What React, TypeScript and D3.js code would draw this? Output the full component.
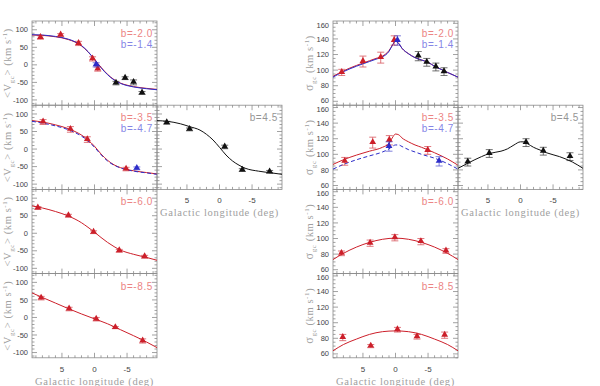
import React, { useEffect, useRef } from 'react';
import * as d3 from 'd3';

// tick labels
const LON_TICKS = [5, 0, -5];
const V_TICKS = [100, 50, 0, -50, -100];
const S_TICKS = [160, 140, 120, 100, 80, 60];

// observed points: [longitude, value, error]
const vPtsB20 = [[8.3, 78, 5], [5.2, 85, 4], [2.45, 61, 6], [0.3, 17, 6], [-0.5, -12, 6]];
const vPtsB14 = [[-0.25, 0, 6]];
const vPtsB14k = [[-3.3, -52, 5], [-4.7, -38, 4], [-6.0, -50, 7], [-7.3, -80, 4]];
const vPtsB35 = [[7.9, 77, 7], [3.7, 56, 8], [1.1, 27, 8], [-4.85, -57, 5]];
const vPtsB47 = [[-6.5, -55, 4]];
const vPtsB45 = [[8.1, 75, 4], [4.6, 56, 4], [-0.8, 6, 5], [-3.5, -60, 4], [-7.7, -65, 4]];
const vPtsB60 = [[8.7, 72, 4], [4.0, 50, 4], [0.15, 3, 4], [-3.8, -50, 4], [-7.7, -67, 4]];
const vPtsB85 = [[8.2, 55, 5], [3.9, 24, 5], [-0.26, -5, 5], [-3.2, -29, 3], [-7.4, -67, 6]];

const sPtsB20 = [[8.26, 97, 4], [5.0, 111, 7], [2.27, 116, 7], [0.2, 138, 6]];
const sPtsB14 = [[-0.3, 138, 6]];
const sPtsB14k = [[-3.5, 118, 6], [-4.8, 110, 5], [-6.2, 104, 5], [-7.45, 98, 5]];
const sPtsB35 = [[7.8, 91, 5], [3.5, 115, 7], [0.95, 118, 6], [-4.95, 105, 5]];
const sPtsB47 = [[1.0, 110, 6], [-6.7, 91, 6]];
const sPtsB45 = [[8.1, 90, 5], [4.8, 101, 5], [-0.85, 115, 5], [-3.5, 104, 5], [-7.6, 97, 5]];
const sPtsB60 = [[8.3, 81, 3], [3.9, 94, 4], [0.1, 101, 4], [-3.9, 96, 4], [-7.75, 84, 3]];
const sPtsB85 = [[8.1, 81, 4], [3.8, 70, 2], [-0.3, 91, 3], [-3.3, 82, 3], [-7.55, 84, 4]];

// model curves: [longitude, value]
const vModB20 = [[9.6, 85], [8, 84], [6, 80], [5, 77], [4, 72], [3, 65], [2, 54], [1, 37], [0, 16], [-1, -7], [-2, -27], [-3, -42], [-4, -52], [-5, -58], [-6, -62], [-8, -67], [-9.6, -70]];
const vModB14 = [[9.6, 86], [8, 85], [6, 81], [5, 78], [4, 73], [3, 66], [2, 55], [1, 38], [0, 15], [-1, -8], [-2, -28], [-3, -43], [-4, -53], [-5, -59], [-6, -63], [-8, -68], [-9.6, -71]];
const vModB35 = [[9.6, 81], [8, 77], [6, 69], [4, 58], [3, 50], [2, 40], [1, 26], [0, 8], [-1, -14], [-2, -32], [-3, -45], [-4, -53], [-6, -62], [-8, -67], [-9.6, -71]];
const vModB47 = [[9.6, 79], [8, 74], [6, 66], [4, 55], [3, 47], [2, 37], [1, 23], [0, 5], [-1, -16], [-2, -34], [-3, -46], [-4, -54], [-6, -63], [-8, -68], [-9.6, -72]];
const vModB45 = [[9.6, 81], [8, 79], [6, 72], [4.6, 64], [3, 54], [2, 42], [1, 26], [0, 5], [-1, -17], [-2, -34], [-3, -46], [-4, -55], [-6, -63], [-8, -68], [-9.6, -72]];
const vModB60 = [[9.6, 78], [8, 72], [6, 62], [4, 49], [2, 30], [1, 17], [0, 3], [-1, -12], [-2, -26], [-3, -38], [-4, -48], [-6, -60], [-8, -69], [-9.6, -77]];
const vModB85 = [[9.6, 70], [8, 57], [6, 41], [4, 25], [2, 10], [0, -4], [-2, -18], [-4, -35], [-6, -52], [-8, -70], [-9.6, -86]];

const sModB20 = [[9.6, 92], [8, 99], [6, 106], [4, 112], [3, 115], [2, 118], [1, 125], [0.4, 133], [0, 138], [-0.5, 134], [-1, 128], [-2, 121], [-3, 116], [-4, 113], [-5, 110], [-6, 105], [-7, 101], [-8, 97], [-9.6, 91]];
const sModB14 = [[9.6, 91], [8, 98], [6, 105], [4, 111], [3, 114], [2, 117], [1, 124], [0.4, 133], [0, 137], [-0.5, 134], [-1, 128], [-2, 121], [-3, 116], [-4, 113], [-5, 110], [-6, 105], [-7, 101], [-8, 97], [-9.6, 91]];
const sModB35 = [[9.6, 87], [8, 93], [6, 99], [4, 104], [2, 109], [1, 114], [0.5, 121], [0, 126], [-0.5, 125], [-1, 121], [-2, 116], [-3, 112], [-4, 109], [-6, 102], [-8, 94], [-9.6, 86]];
const sModB47 = [[9.6, 81], [8, 87], [6, 93], [4, 98], [2, 103], [1, 107], [0.5, 110], [0, 112], [-0.5, 112], [-1, 110], [-2, 106], [-3, 103], [-4, 100], [-6, 95], [-8, 88], [-9.6, 81]];
const sModB45 = [[9.6, 82], [8, 89], [6, 97], [4.8, 101], [3, 104], [2, 107], [1, 112], [0, 116], [-0.5, 116], [-1, 114], [-2, 109], [-3, 105.5], [-4, 102], [-6, 97], [-8, 90], [-9.6, 82]];
const sModB60 = [[9.6, 73], [8, 81], [6, 89], [4, 95], [2, 99], [0, 100.5], [-2, 99], [-4, 95], [-6, 89], [-8, 81], [-9.6, 73]];
const sModB85 = [[9.6, 64], [8, 72], [6, 79], [4, 85], [2, 88.5], [0, 89.5], [-2, 88.5], [-4, 85], [-6, 79], [-8, 72], [-9.6, 64]];

const W = 600, H = 386;
const TOP = 21, PH = 84.2, PW = 125;
const LX = 32, RX = 333;

const RED = '#cc1f2a', BLUE = '#2c2cc8', BLACK = '#111111';
const RED_T = '#ec8484', BLUE_T = '#8585e6', GRAY_T = '#959595';
const FRAME = '#8a8a8a';

const App = () => {
  const ref = useRef<SVGSVGElement>(null);

  useEffect(() => {
    const svg = d3.select(ref.current);
    svg.selectAll('*').remove();

    const xS = d3.scaleLinear().domain([9.6, -9.6]).range([0, PW]);
    const vS = d3.scaleLinear().domain([-115, 125]).range([PH, 0]);
    const sS = d3.scaleLinear().domain([55, 163]).range([PH, 0]);

    const panels = [
      { x: LX, row: 0, y: vS, kind: 'v', curves: [[vModB20, RED, false], [vModB14, BLUE, false]], pts: [[vPtsB20, RED], [vPtsB14, BLUE], [vPtsB14k, BLACK]], tags: [['b=-2.0', RED_T], ['b=-1.4', BLUE_T]] },
      { x: LX, row: 1, y: vS, kind: 'v', curves: [[vModB35, RED, false], [vModB47, BLUE, true]], pts: [[vPtsB35, RED], [vPtsB47, BLUE]], tags: [['b=-3.5', RED_T], ['b=-4.7', BLUE_T]] },
      { x: LX + PW, row: 1, y: vS, kind: 'v', mid: true, xlab: true, curves: [[vModB45, BLACK, false]], pts: [[vPtsB45, BLACK]], tags: [['b=4.5', GRAY_T]] },
      { x: LX, row: 2, y: vS, kind: 'v', curves: [[vModB60, RED, false]], pts: [[vPtsB60, RED]], tags: [['b=-6.0', RED_T]] },
      { x: LX, row: 3, y: vS, kind: 'v', xlab: true, curves: [[vModB85, RED, false]], pts: [[vPtsB85, RED]], tags: [['b=-8.5', RED_T]] },
      { x: RX, row: 0, y: sS, kind: 's', curves: [[sModB20, RED, false], [sModB14, BLUE, false]], pts: [[sPtsB20, RED], [sPtsB14, BLUE], [sPtsB14k, BLACK]], tags: [['b=-2.0', RED_T], ['b=-1.4', BLUE_T]] },
      { x: RX, row: 1, y: sS, kind: 's', curves: [[sModB35, RED, false], [sModB47, BLUE, true]], pts: [[sPtsB35, RED], [sPtsB47, BLUE]], tags: [['b=-3.5', RED_T], ['b=-4.7', BLUE_T]] },
      { x: RX + PW, row: 1, y: sS, kind: 's', mid: true, xlab: true, curves: [[sModB45, BLACK, false]], pts: [[sPtsB45, BLACK]], tags: [['b=4.5', GRAY_T]] },
      { x: RX, row: 2, y: sS, kind: 's', curves: [[sModB60, RED, false]], pts: [[sPtsB60, RED]], tags: [['b=-6.0', RED_T]] },
      { x: RX, row: 3, y: sS, kind: 's', xlab: true, curves: [[sModB85, RED, false]], pts: [[sPtsB85, RED]], tags: [['b=-8.5', RED_T]] },
    ];

    const defs = svg.append('defs');

    panels.forEach((p: any, i) => {
      const top = TOP + p.row * PH;
      const g = svg.append('g').attr('transform', `translate(${p.x},${top})`);
      const y = p.y;

      defs.append('clipPath').attr('id', `clip${i}`)
        .append('rect').attr('width', PW).attr('height', PH);

      // frame
      g.append('rect').attr('width', PW).attr('height', PH)
        .attr('fill', 'none').attr('stroke', FRAME).attr('stroke-width', 0.8);

      // ticks on all four sides, pointing inward
      const tk = g.append('g').attr('stroke', FRAME).attr('stroke-width', 0.8);
      d3.range(-9, 10).forEach(l => {
        const len = l % 5 === 0 ? 5 : 2.5;
        const xx = xS(l);
        tk.append('line').attr('x1', xx).attr('x2', xx).attr('y1', PH).attr('y2', PH - len);
        tk.append('line').attr('x1', xx).attr('x2', xx).attr('y1', 0).attr('y2', len);
      });
      const yStep = p.kind === 'v' ? 10 : 5;
      const yMajor = p.kind === 'v' ? 50 : 20;
      const [d0, d1] = y.domain();
      d3.range(Math.ceil(d0 / yStep) * yStep, d1 + 0.01, yStep).forEach(v => {
        const len = v % yMajor === 0 ? 5 : 2.5;
        const yy = y(v);
        tk.append('line').attr('x1', 0).attr('x2', len).attr('y1', yy).attr('y2', yy);
        tk.append('line').attr('x1', PW).attr('x2', PW - len).attr('y1', yy).attr('y2', yy);
      });

      // y tick labels (edge labels nudged inside the panel)
      if (!p.mid) {
        const ticks = p.kind === 'v' ? V_TICKS : S_TICKS;
        g.append('g').selectAll('text').data(ticks).enter().append('text')
          .attr('x', -4).attr('y', d => Math.min(Math.max(y(d), 4.2), PH - 4.4)).attr('dy', '0.35em')
          .attr('text-anchor', 'end').attr('font-family', 'Liberation Sans, Arial, sans-serif')
          .attr('font-size', 7.5).attr('fill', '#444').text(d => d);

        // y title
        const t = g.append('text')
          .attr('transform', `translate(${p.kind === 'v' ? -21 : -20},${PH / 2}) rotate(-90)`)
          .attr('text-anchor', 'middle').attr('font-family', 'Liberation Serif, Times New Roman, serif')
          .attr('font-size', 10.5).attr('fill', '#a0a0a0').attr('letter-spacing', 0.6);
        if (p.kind === 'v') {
          t.append('tspan').text('<V');
          t.append('tspan').attr('dy', 2.5).attr('font-size', 7).text('gc');
          t.append('tspan').attr('dy', -2.5).text('> (km s');
        } else {
          t.append('tspan').attr('font-size', 12).text('σ');
          t.append('tspan').attr('dy', 2.5).attr('font-size', 7).text('gc');
          t.append('tspan').attr('dy', -2.5).text(' (km s');
        }
        t.append('tspan').attr('dy', -4).attr('font-size', 7).text('-1');
        t.append('tspan').attr('dy', 4).text(')');
      }

      // x tick labels + title
      if (p.xlab) {
        g.append('g').selectAll('text').data(LON_TICKS).enter().append('text')
          .attr('x', d => xS(d)).attr('y', PH + 14)
          .attr('text-anchor', 'middle').attr('font-family', 'Liberation Sans, Arial, sans-serif')
          .attr('font-size', 8).attr('fill', '#444').text(d => d);
        g.append('text').attr('x', PW / 2).attr('y', PH + 27)
          .attr('text-anchor', 'middle').attr('font-family', 'Liberation Serif, Times New Roman, serif')
          .attr('font-size', 10.5).attr('fill', '#a0a0a0').attr('letter-spacing', 0.7)
          .text('Galactic longitude (deg)');
      }

      // model curves
      const line = d3.line<any>().x(d => xS(d[0])).y(d => y(d[1])).curve(d3.curveMonotoneX);
      const cg = g.append('g').attr('clip-path', `url(#clip${i})`);
      p.curves.forEach(([data, col, dashed]: any) => {
        cg.append('path').datum(data).attr('d', line)
          .attr('fill', 'none').attr('stroke', col).attr('stroke-width', 1)
          .attr('stroke-dasharray', dashed ? '4,2.5' : null);
      });

      // error bars and markers
      const tri = d3.symbol().type(d3.symbolTriangle).size(20);
      p.pts.forEach(([data, col]: any) => {
        const eg = g.append('g').attr('stroke', col).attr('stroke-width', 0.8).attr('opacity', 0.75);
        data.forEach((d: number[]) => {
          const xx = xS(d[0]);
          const y1 = y(d[1] - d[2]);
          const y2 = y(d[1] + d[2]);
          eg.append('line').attr('x1', xx).attr('x2', xx).attr('y1', y1).attr('y2', y2);
          eg.append('line').attr('x1', xx - 3.5).attr('x2', xx + 3.5).attr('y1', y1).attr('y2', y1);
          eg.append('line').attr('x1', xx - 3.5).attr('x2', xx + 3.5).attr('y1', y2).attr('y2', y2);
        });
        g.append('g').selectAll('path').data(data).enter().append('path')
          .attr('d', tri as any)
          .attr('transform', (d: any) => `translate(${xS(d[0])},${y(d[1]) - 0.5})`)
          .attr('fill', col);
      });

      // latitude tags
      p.tags.forEach(([txt, col]: any, k: number) => {
        g.append('text').attr('x', PW - 4).attr('y', 16 + k * 10.5)
          .attr('text-anchor', 'end').attr('font-family', 'Liberation Sans, Arial, sans-serif')
          .attr('font-size', 10).attr('letter-spacing', 0.6).attr('fill', col).text(txt);
      });
    });
  }, []);

  return (
    <svg ref={ref} width={W} height={H}
      style={{ position: 'absolute', left: 0, top: 0, background: '#fff' }} />
  );
};

export default App;
